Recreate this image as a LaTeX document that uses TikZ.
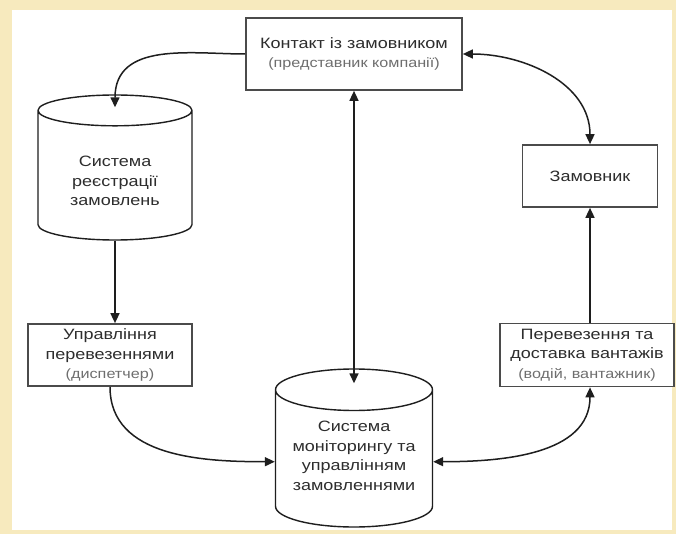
\documentclass[tikz,border=0pt]{standalone}
\usepackage{fontspec}
\setmainfont{Liberation Sans}[FakeStretch=1.2]
\usetikzlibrary{positioning, arrows.meta, shapes.geometric}
\definecolor{FonKrem}{RGB}{247,234,190}
\definecolor{Linija}{RGB}{30,30,30}
\definecolor{Ramka}{RGB}{75,75,75}
\definecolor{Tekst}{RGB}{45,45,45}
\definecolor{Pidpys}{RGB}{110,110,110}
\tikzset{
  blok/.style={rectangle, draw=Ramka, line width=1.7pt, fill=white, text=Tekst, align=center, inner sep=2pt, font=\fontsize{15}{19.5}\selectfont},
  baza/.style={cylinder, shape border rotate=90, aspect=0.32, draw=Linija, line width=1.4pt, fill=white, text=Tekst, align=center, font=\fontsize{15}{19.5}\selectfont, anchor=shape center},
  zvjazok/.style={-{Triangle[length=10pt,width=9pt]}, line width=1.5pt, Linija},
  dvobik/.style={{Triangle[length=10pt,width=9pt]}-{Triangle[length=10pt,width=9pt]}, line width=1.5pt, Linija}
}
\newcommand{\dribno}[1]{{\fontsize{13.5}{17}\selectfont\color{Pidpys}#1}}

\begin{document}
\begin{tikzpicture}[x=1pt, y=-1pt]
  \useasboundingbox (0,0) rectangle (676,534);
  % tlo
  \fill[FonKrem] (0,0) rectangle (676,534);
  \fill[white] (12,10) rectangle (672,530);

  \node[blok, minimum width=216pt, minimum height=72pt] (kontakt) at (354,54) {Контакт із замовником\\\dribno{(представник компанії)}};
  \node[baza, minimum width=154pt, minimum height=145pt] (reestr) at (115,167.5) {\rule{0pt}{17pt}Система\\реєстрації\\замовлень};
  \node[blok, minimum width=135pt, minimum height=62pt] (zamovnyk) at (590,176) {Замовник};
  \node[blok, minimum width=164pt, minimum height=62pt] (upravl) at (110,355) {Управління\\перевезеннями\\\dribno{(диспетчер)}};
  \node[blok, minimum width=174pt, minimum height=63pt] (dostavka) at (587,355) {Перевезення та\\доставка вантажів\\\dribno{(водій, вантажник)}};
  \node[baza, minimum width=157pt, minimum height=158pt] (monitor) at (354,448) {Система\\моніторингу та\\управлінням\\замовленнями\rule[-12pt]{0pt}{12pt}};

  \draw[zvjazok, shorten >=-13pt] (kontakt.west) to[out=180, in=90] (reestr.north);
  \draw[dvobik] (kontakt.east) to[out=0, in=90] (zamovnyk.north);
  \draw[dvobik, shorten >=-15pt] (kontakt.south) -- (monitor.north);
  \draw[zvjazok] (reestr.south) -- (reestr.south |- upravl.north);
  \draw[zvjazok] (upravl.south) to[out=270, in=180] (monitor.west);
  \draw[dvobik] (monitor.east) to[out=0, in=270] (dostavka.south -| zamovnyk.south);
  \draw[zvjazok] (dostavka.north -| zamovnyk.south) -- (zamovnyk.south);
\end{tikzpicture}
\end{document}
